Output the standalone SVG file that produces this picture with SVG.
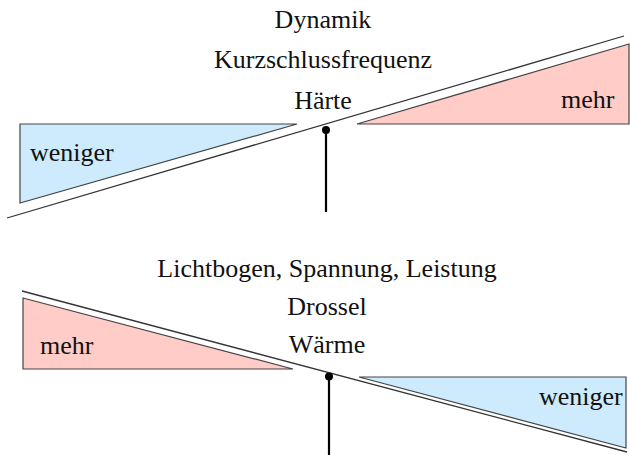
<svg xmlns="http://www.w3.org/2000/svg" width="630" height="455" viewBox="0 0 630 455">
<style>
text{font-family:"Liberation Serif","Times New Roman",serif;font-size:26px;fill:#111}
.c{text-anchor:middle}
.blue{fill:#cdebfd;stroke:#444;stroke-width:1.2}
.red{fill:#ffccc7;stroke:#444;stroke-width:1.2}
.beam{stroke:#333;stroke-width:1.3;fill:none}
.stem{stroke:#000;stroke-width:2.2}
</style>
<rect width="630" height="455" fill="#fff"/>
<g id="top">
  <g id="top-less"><polygon class="blue" points="20,124 297,124 20,203"/><text x="30" y="161">weniger</text></g>
  <g id="top-more"><polygon class="red" points="357,124 629,44 629,124"/><text x="561" y="108">mehr</text></g>
  <g id="top-labels">
    <text class="c" x="323" y="28">Dynamik</text>
    <text class="c" x="323" y="68">Kurzschlussfrequenz</text>
    <text class="c" x="323" y="109">Härte</text>
  </g>
</g>
<g id="bottom">
  <g id="bottom-more"><polygon class="red" points="23,298 293,369 23,369"/><text x="40" y="354">mehr</text></g>
  <g id="bottom-less"><polygon class="blue" points="359,377 626,377 626,448"/><text x="539" y="405">weniger</text></g>
  <g id="bottom-labels">
    <text class="c" x="327" y="277">Lichtbogen, Spannung, Leistung</text>
    <text class="c" x="327" y="315">Drossel</text>
    <text class="c" x="327" y="353">Wärme</text>
  </g>
</g>
<g id="connectors">
  <line class="beam" x1="7" y1="218" x2="624" y2="36"/>
  <line class="stem" x1="326" y1="130" x2="326" y2="212"/>
  <circle cx="326" cy="130" r="4" fill="#000"/>
  <line class="beam" x1="22" y1="291" x2="627" y2="452"/>
  <line class="stem" x1="329" y1="377" x2="329" y2="455"/>
  <circle cx="329" cy="376.5" r="4" fill="#000"/>
</g>
</svg>
